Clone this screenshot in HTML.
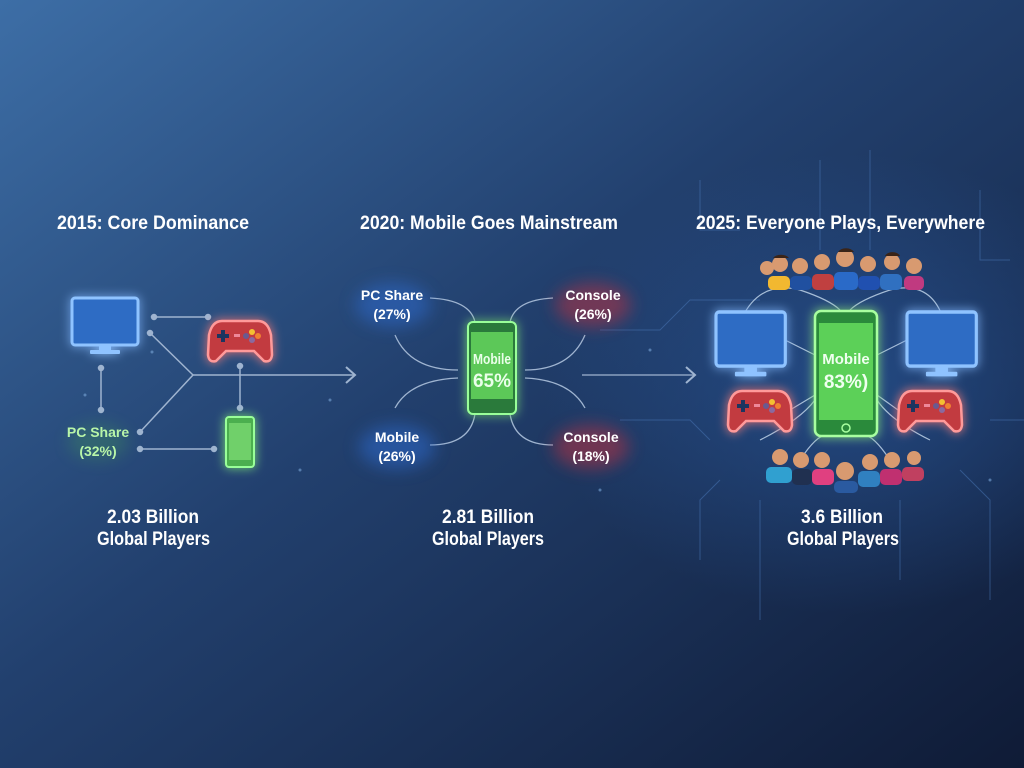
<!DOCTYPE html>
<html><head><meta charset="utf-8"><style>
html,body{margin:0;padding:0;width:1024px;height:768px;overflow:hidden;background:#1a2e52}
svg{display:block}
text{font-family:"Liberation Sans",sans-serif;font-weight:bold}
</style></head><body>
<svg width="1024" height="768" viewBox="0 0 1024 768" xmlns="http://www.w3.org/2000/svg">
<defs>
<linearGradient id="bg" x1="0" y1="0" x2="1" y2="1">
<stop offset="0" stop-color="#3d6ea6"/><stop offset="0.45" stop-color="#22406e"/><stop offset="1" stop-color="#0f1b36"/>
</linearGradient>
<radialGradient id="rg" cx="0.83" cy="0.5" r="0.3"><stop offset="0" stop-color="#2a5aa0" stop-opacity="0.6"/><stop offset="1" stop-color="#2a5aa0" stop-opacity="0"/></radialGradient>
<filter id="glow" x="-50%" y="-50%" width="200%" height="200%"><feGaussianBlur stdDeviation="5" result="b"/><feMerge><feMergeNode in="b"/><feMergeNode in="SourceGraphic"/></feMerge></filter>
<filter id="tglow" x="-50%" y="-50%" width="200%" height="200%"><feGaussianBlur stdDeviation="8"/></filter>
<g id="mon"><rect x="0" y="0" width="66" height="47" rx="3" fill="#2f6cc4" stroke="#8fc3ff" stroke-width="3"/><rect x="27" y="47" width="12" height="6" fill="#8fc3ff"/><rect x="18" y="52" width="30" height="4" rx="1" fill="#8fc3ff"/></g>
<g id="pad"><path d="M14 0 H50 Q60 0 63 14 L64 34 Q63 42 56 40 L46 30 H18 L8 40 Q1 42 0 34 L1 14 Q4 0 14 0Z" fill="#c23a40" stroke="#ff9a9a" stroke-width="2.5"/><rect x="9" y="13" width="12" height="4" fill="#1f3560"/><rect x="13" y="9" width="4" height="12" fill="#1f3560"/><rect x="26" y="13" width="6" height="3" fill="#e89"/><circle cx="44" cy="11" r="3" fill="#f4c030"/><circle cx="50" cy="15" r="3" fill="#f08030"/><circle cx="44" cy="19" r="3" fill="#8a6aa0"/><circle cx="38" cy="15" r="3" fill="#6a5a90"/></g>
</defs>
<rect width="1024" height="768" fill="url(#bg)"/>
<rect width="1024" height="768" fill="url(#rg)"/>
<g stroke="#4a78b8" stroke-width="1" fill="none" opacity="0.5">
<path d="M700 180 V230 H740"/><path d="M980 190 V260 H1010"/><path d="M990 420 H1024"/><path d="M720 480 L700 500 V560"/><path d="M960 470 L990 500 V600"/><path d="M900 500 V580"/><path d="M760 500 V620"/><path d="M820 160 V250"/><path d="M870 150 V250"/><path d="M600 330 H660 L690 300 H760"/><path d="M620 420 H690 L710 440"/>
</g>
<g font-size="19" fill="#fff" lengthAdjust="spacingAndGlyphs">
<text x="57" y="229" textLength="192" lengthAdjust="spacingAndGlyphs">2015: Core Dominance</text>
<text x="360" y="229" textLength="258" lengthAdjust="spacingAndGlyphs">2020: Mobile Goes Mainstream</text>
<text x="696" y="229" textLength="289" lengthAdjust="spacingAndGlyphs">2025: Everyone Plays, Everywhere</text>
<text x="107" y="523" textLength="92" lengthAdjust="spacingAndGlyphs">2.03 Billion</text><text x="97" y="545" textLength="113" lengthAdjust="spacingAndGlyphs">Global Players</text>
<text x="442" y="523" textLength="92" lengthAdjust="spacingAndGlyphs">2.81 Billion</text><text x="432" y="545" textLength="112" lengthAdjust="spacingAndGlyphs">Global Players</text>
<text x="801" y="523" textLength="82" lengthAdjust="spacingAndGlyphs">3.6 Billion</text><text x="787" y="545" textLength="112" lengthAdjust="spacingAndGlyphs">Global Players</text>
</g>
<g stroke="#9fb4d0" stroke-width="1.5" fill="#9fb4d0">
<line x1="154" y1="317" x2="208" y2="317"/><circle cx="154" cy="317" r="2.5"/><circle cx="208" cy="317" r="2.5"/>
<polyline points="150,333 193,375 140,432" fill="none"/><circle cx="150" cy="333" r="2.5"/><circle cx="140" cy="432" r="2.5"/>
<line x1="193" y1="375" x2="355" y2="375"/><polyline points="346,367 355,375 346,383" fill="none" stroke-width="2"/>
<line x1="101" y1="368" x2="101" y2="410"/><circle cx="101" cy="368" r="2.5"/><circle cx="101" cy="410" r="2.5"/>
<line x1="240" y1="366" x2="240" y2="408"/><circle cx="240" cy="366" r="2.5"/><circle cx="240" cy="408" r="2.5"/>
<line x1="140" y1="449" x2="214" y2="449"/><circle cx="140" cy="449" r="2.5"/><circle cx="214" cy="449" r="2.5"/>
</g>
<g filter="url(#glow)"><use href="#mon" x="72" y="298"/></g>
<g filter="url(#glow)"><use href="#pad" x="208" y="321"/></g>
<g filter="url(#glow)"><rect x="226" y="417" width="28" height="50" rx="3" fill="#4caf50" stroke="#9f9" stroke-width="2"/><rect x="229" y="423" width="22" height="37" fill="#6fd06a"/></g>
<ellipse cx="98" cy="442" rx="30" ry="18" fill="#4caf50" opacity="0.25" filter="url(#tglow)"/>
<g font-size="14" fill="#b8f5a8" text-anchor="middle"><text x="98" y="437">PC Share</text><text x="98" y="456">(32%)</text></g>
<g stroke="#9fb4d0" stroke-width="1.3" fill="none">
<path d="M430 298 Q470 300 475 322"/><path d="M395 335 Q410 370 458 370"/><path d="M395 408 Q410 380 458 378"/><path d="M430 445 Q470 445 475 414"/>
<path d="M553 298 Q515 300 510 322"/><path d="M585 335 Q570 370 525 370"/><path d="M585 408 Q570 380 525 378"/><path d="M553 445 Q515 445 510 414"/>
<line x1="582" y1="375" x2="695" y2="375"/><polyline points="686,367 695,375 686,383" stroke-width="2"/>
</g>
<ellipse cx="393" cy="305" rx="38" ry="22" fill="#2f6cd0" opacity="0.5" filter="url(#tglow)"/>
<ellipse cx="397" cy="447" rx="38" ry="22" fill="#2f6cd0" opacity="0.5" filter="url(#tglow)"/>
<ellipse cx="593" cy="305" rx="38" ry="22" fill="#c03040" opacity="0.5" filter="url(#tglow)"/>
<ellipse cx="591" cy="447" rx="38" ry="22" fill="#c03040" opacity="0.5" filter="url(#tglow)"/>
<g font-size="14" fill="#fff" text-anchor="middle">
<text x="392" y="300">PC Share</text><text x="392" y="319">(27%)</text>
<text x="593" y="300">Console</text><text x="593" y="319">(26%)</text>
<text x="397" y="442">Mobile</text><text x="397" y="461">(26%)</text>
<text x="591" y="442">Console</text><text x="591" y="461">(18%)</text>
</g>
<g filter="url(#glow)"><rect x="468" y="322" width="48" height="92" rx="5" fill="#2a7a3a" stroke="#9f9" stroke-width="2"/><rect x="471" y="332" width="42" height="67" fill="#5cc858"/></g>
<g font-size="15" fill="#eaffea" text-anchor="middle"><text x="492" y="364" textLength="38" lengthAdjust="spacingAndGlyphs">Mobile</text><text x="492" y="387" font-size="19">65%</text></g>
<g stroke="#c8dcf0" stroke-width="1.2" fill="none" opacity="0.8">
<path d="M742 318 Q760 280 800 290 Q830 300 840 310"/><path d="M943 318 Q930 280 890 290 Q860 300 850 310"/>
<path d="M760 440 Q800 420 815 400"/><path d="M930 440 Q890 420 877 400"/>
<path d="M785 340 L815 355"/><path d="M907 340 L877 355"/><path d="M790 410 L815 395"/><path d="M898 410 L877 395"/>
<path d="M800 460 Q820 430 830 436"/><path d="M890 460 Q870 430 860 436"/>
</g>
<g filter="url(#glow)"><use href="#mon" x="716" y="312" transform="translate(716 312) scale(1.05 1.15) translate(-716 -312)"/><use href="#mon" x="907" y="312" transform="translate(907 312) scale(1.05 1.15) translate(-907 -312)"/></g>
<g filter="url(#glow)"><use href="#pad" x="728" y="391"/><use href="#pad" x="898" y="391"/></g>
<g filter="url(#glow)"><rect x="815" y="311" width="62" height="125" rx="6" fill="#2a8a3a" stroke="#a8ffa0" stroke-width="2.5"/><rect x="819" y="323" width="54" height="97" fill="#5cd058"/><circle cx="846" cy="428" r="4" fill="none" stroke="#a8ffa0" stroke-width="1.5"/></g>
<g font-size="15" fill="#f0fff0" text-anchor="middle"><text x="846" y="364">Mobile</text><text x="846" y="388" font-size="19">83%)</text></g>
<g>
<g fill="#d89a70"><circle cx="767" cy="268" r="7"/><circle cx="780" cy="264" r="8"/><circle cx="800" cy="266" r="8"/><circle cx="822" cy="262" r="8"/><circle cx="845" cy="258" r="9"/><circle cx="868" cy="264" r="8"/><circle cx="892" cy="262" r="8"/><circle cx="914" cy="266" r="8"/></g>
<g><rect x="768" y="276" width="22" height="14" rx="5" fill="#f2b830"/><rect x="790" y="276" width="22" height="14" rx="5" fill="#2050a0"/><rect x="812" y="274" width="22" height="16" rx="5" fill="#c04040"/><rect x="834" y="272" width="24" height="18" rx="5" fill="#2a6ac8"/><rect x="858" y="276" width="22" height="14" rx="5" fill="#2050b0"/><rect x="880" y="274" width="22" height="16" rx="5" fill="#3070c0"/><rect x="904" y="276" width="20" height="14" rx="5" fill="#c03a80"/></g>
<g fill="#3a2418"><path d="M773 258 a9 6 0 0 1 16 0z"/><path d="M838 252 a9 7 0 0 1 16 0z"/><path d="M885 256 a8 6 0 0 1 15 0z"/></g>
<g fill="#d89a70"><circle cx="780" cy="457" r="8"/><circle cx="801" cy="460" r="8"/><circle cx="822" cy="460" r="8"/><circle cx="845" cy="471" r="9"/><circle cx="870" cy="462" r="8"/><circle cx="892" cy="460" r="8"/><circle cx="914" cy="458" r="7"/></g>
<g><rect x="766" y="467" width="26" height="16" rx="5" fill="#30a0d0"/><rect x="792" y="469" width="20" height="16" rx="5" fill="#203050"/><rect x="812" y="469" width="22" height="16" rx="5" fill="#e04080"/><rect x="834" y="481" width="24" height="12" rx="5" fill="#2a5aa0"/><rect x="858" y="471" width="22" height="16" rx="5" fill="#3080c0"/><rect x="880" y="469" width="22" height="16" rx="5" fill="#c03070"/><rect x="902" y="467" width="22" height="14" rx="5" fill="#c04060"/></g>
</g>
<g fill="#7aa6d8" opacity="0.6"><circle cx="85" cy="395" r="1.5"/><circle cx="152" cy="352" r="1.5"/><circle cx="330" cy="400" r="1.5"/><circle cx="600" cy="490" r="1.5"/><circle cx="650" cy="350" r="1.5"/><circle cx="300" cy="470" r="1.5"/><circle cx="990" cy="480" r="1.5"/></g>
</svg>
</body></html>
